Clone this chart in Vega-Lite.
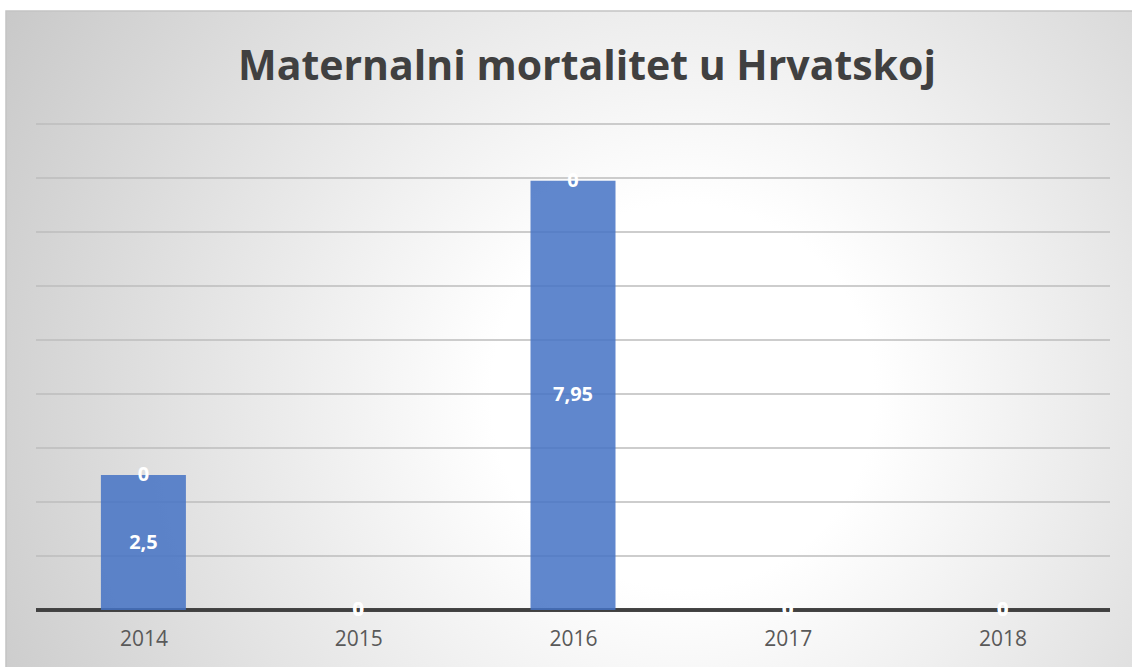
{
  "$schema": "https://vega.github.io/schema/vega-lite/v6.json",
  "width": 1128,
  "height": 658,
  "autosize": {"type": "none"},
  "padding": {"left": 6, "top": 11, "right": 0, "bottom": 0},
  "background": "#ffffff",
  "title": {
    "text": "Maternalni mortalitet u Hrvatskoj",
    "anchor": "middle",
    "dx": 17,
    "offset": -78,
    "font": "Open Sans",
    "fontSize": 41,
    "fontWeight": "bold",
    "color": "#404040"
  },
  "data": {
    "values": [
      {"godina": 2014, "vrijednost": 2.5, "serija2": 0},
      {"godina": 2015, "vrijednost": 0, "serija2": 0},
      {"godina": 2016, "vrijednost": 7.95, "serija2": 0},
      {"godina": 2017, "vrijednost": 0, "serija2": 0},
      {"godina": 2018, "vrijednost": 0, "serija2": 0}
    ]
  },
  "layer": [
    {
      "data": {"values": [{"razina": 1}, {"razina": 2}, {"razina": 3}, {"razina": 4}, {"razina": 5}, {"razina": 6}, {"razina": 7}, {"razina": 8}, {"razina": 9}]},
      "mark": {"type": "rule", "stroke": "#bdbdbd", "strokeWidth": 1.3},
      "encoding": {
        "y": {"field": "razina", "type": "quantitative", "scale": {"domain": [-1.0926, 11.093], "nice": false, "zero": false}, "axis": null},
        "x": {"datum": 2013.5, "type": "quantitative", "scale": {"domain": [2013.3603, 2018.6117], "nice": false, "zero": false, "padding": 0}},
        "x2": {"datum": 2018.5}
      }
    },
    {
      "mark": {"type": "rule", "stroke": "#404040", "strokeWidth": 3},
      "encoding": {
        "y": {"datum": 0, "type": "quantitative", "scale": {"domain": [-1.0926, 11.093], "nice": false, "zero": false}, "axis": null},
        "x": {"datum": 2013.5, "type": "quantitative", "scale": {"domain": [2013.3603, 2018.6117], "nice": false, "zero": false, "padding": 0}},
        "x2": {"datum": 2018.5}
      }
    },
    {
      "mark": {"type": "bar", "size": 85, "color": "#4472C4", "fillOpacity": 0.85},
      "encoding": {
        "x": {
          "field": "godina", "type": "quantitative",
          "scale": {"domain": [2013.3603, 2018.6117], "nice": false, "zero": false, "padding": 0},
          "axis": {"offset": -59, "values": [2014, 2015, 2016, 2017, 2018], "format": "d", "domain": false, "ticks": false, "grid": false, "labelFont": "Open Sans", "labelFontSize": 21, "labelColor": "#595959", "labelPadding": 18, "title": null}
        },
        "y": {"field": "vrijednost", "type": "quantitative", "scale": {"domain": [-1.0926, 11.093], "nice": false, "zero": false}, "axis": null}
      }
    },
    {
      "mark": {"type": "text", "color": "#ffffff", "font": "Open Sans", "fontSize": 20, "fontWeight": "bold", "baseline": "middle", "align": "center"},
      "encoding": {
        "x": {"field": "godina", "type": "quantitative", "scale": {"domain": [2013.3603, 2018.6117], "nice": false, "zero": false, "padding": 0}},
        "y": {"field": "vrijednost", "type": "quantitative", "scale": {"domain": [-2.1852, 22.186], "nice": false, "zero": false}, "axis": null},
        "text": {"field": "vrijednost", "type": "quantitative", "format": ".2~f"}
      }
    },
    {
      "mark": {"type": "text", "color": "#ffffff", "font": "Open Sans", "fontSize": 20, "fontWeight": "bold", "baseline": "middle", "align": "center"},
      "encoding": {
        "x": {"field": "godina", "type": "quantitative", "scale": {"domain": [2013.3603, 2018.6117], "nice": false, "zero": false, "padding": 0}},
        "y": {"field": "vrijednost", "type": "quantitative", "scale": {"domain": [-1.0926, 11.093], "nice": false, "zero": false}, "axis": null},
        "text": {"field": "serija2", "type": "quantitative", "format": ".2~f"}
      }
    }
  ],
  "resolve": {"scale": {"y": "independent"}},
  "config": {
    "locale": {"number": {"decimal": ",", "thousands": ".", "grouping": [3], "currency": ["", " €"]}},
    "view": {
      "fill": {"gradient": "radial", "x1": 0.6, "y1": 0.55, "r1": 0, "x2": 0.6, "y2": 0.55, "r2": 0.85,
        "stops": [{"offset": 0, "color": "#ffffff"}, {"offset": 0.2, "color": "#ffffff"}, {"offset": 1, "color": "#b8b8b8"}]},
      "stroke": "#c4c4c4",
      "strokeWidth": 1.5
    }
  }
}
